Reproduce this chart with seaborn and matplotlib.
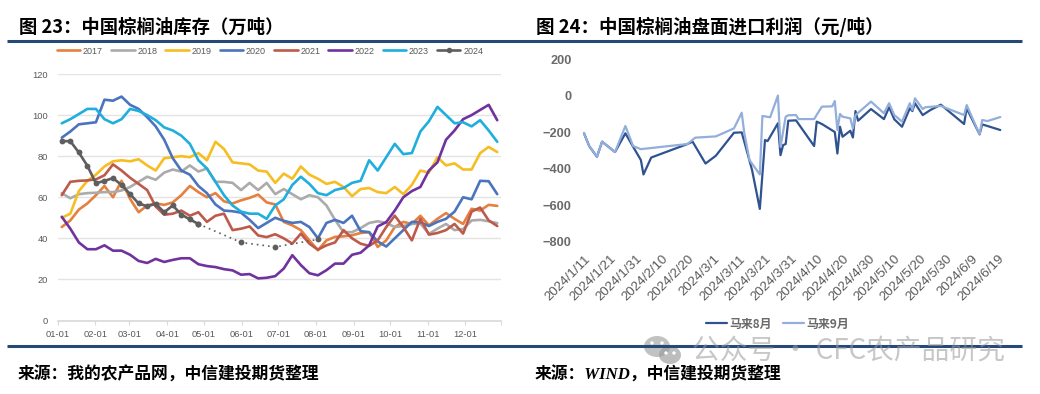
import numpy as np
import pandas as pd
import matplotlib
matplotlib.use("Agg")
import matplotlib.pyplot as plt
from matplotlib.lines import Line2D
from matplotlib.patches import Ellipse
import seaborn as sns

# ---------- left chart data ----------
y2017 = [45.5,48.7,54,57,61,65.5,60,68,59.2,52.7,56,57,56.3,57.5,61,65.5,62.5,60,62,58,57,58.5,59.7,61.3,57.5,56.5,48,46.3,44,39,34.2,39,40.7,41,41.5,42.6,43,35.8,39,45.5,48,47,51,46.3,49.5,52.3,49.5,47,54.4,53.5,56.3,55.8]
y2018 = [62,59.5,61.5,62,62.2,62.5,62.5,63.3,65,67.5,70,68.5,72,73.5,72.5,75.5,72.5,74,67.5,67.5,67,63.5,67,63.5,67,61.5,64,61.5,59,61,60,56,49,43,43,45,47.5,48.3,47.5,45.5,46,47,47.2,42.2,44.7,47,44,44.5,48.7,49,48.3,47.4]
y2019 = [50,52,63,68,71,75,77.5,78,77.5,78.5,75.5,73,79,79.5,80,79.5,81.5,78,87,83.5,77,76.5,76,73,72.5,67,71.5,69,75,71,69,66.5,67.5,65,60.5,64,64.5,62.5,62,65,61.5,66,73,72,79.5,75.5,76.5,73.5,73.5,81.5,84.5,82]
y2020 = [89,92,95.5,96,96.5,107.5,107,109,105,103,99,94.5,88,79,73,71,65.5,62,56.5,53.5,53.2,52.5,49,45,47.5,50,48.5,47.5,48,45.5,40,47.5,49,47.5,51,43.5,43,38.5,36,40,44,48,47.8,46,48,49.5,53,60,59,68,67.8,61.5]
y2021 = [61,67.5,68,68.2,68.7,70.7,76,73,69.5,66.5,63.5,55.5,51.5,52,53.5,51,52.7,48,51,52,44,44.7,45.8,41.4,40.6,42,40,37.4,42.3,37.4,34.5,36.6,38,44,40,37.4,36.3,39,45.5,51,45.5,39,49.5,41.8,42.6,44,47,42.3,53,55,48.7,46]
y2022 = [50.5,44.7,38,34.7,34.7,36.6,34,34,32,29,28,30,28.5,29.5,30.3,30.3,27.4,26.5,26,25,24.4,22.3,22.6,20.5,20.8,21.6,25.3,31.8,27,23,22,24.5,27.7,27.7,32,33,36.6,45.8,47.9,53.5,60,63,65,73,77,88,92.5,98,100,102.5,105,97.5]
y2023 = [96,98,100.5,103,103,98,96,98,103,102,100,97.5,94,92.5,90,86,78,74,67.5,61,56,53,52,52,49.5,56,59,66,70,66.5,62,61,63.5,64.5,67,68,78,73,79.5,86,81,81.5,92,97,104,100,96,96.5,94.5,97.5,92.5,87]
y2024 = [87.3,87.3,81.8,75.3,66.8,68,69.3,66,61.5,57,55.6,56.8,52.7,56,51.6,49.2,47]
w2024_dotted = [16,21,25,30]
y2024_dotted = [47,38,35.8,39.5]
years = ["2017","2018","2019","2020","2021","2022","2023"]
year_colors = ["#E5803F","#ABABAB","#F6BE22","#4A74BE","#BD5A4C","#6F329E","#20AEDD"]
color_2024 = "#5E5E5E"
month_labels = ["01-01","02-01","03-01","04-01","05-01","06-01","07-01","08-01","09-01","10-01","11-01","12-01",""]
left_yticks = [0,20,40,60,80,100,120]

# ---------- right chart data ----------
days_aug = [0,2,5,7,12,16,19,22,23,26,40,42,47,51,58,61,62,65,68,70,71,75,76,77,78,79,82,89,90,92,97,98,99,100,103,104,105,106,111,116,118,120,123,126,127,128,131,134,138,147,148,153,154,161]
aug = [-205,-275,-334,-251,-308,-205,-279,-352,-431,-338,-264,-251,-371,-328,-202,-200,-251,-407,-620,-242,-248,-150,-325,-270,-264,-136,-134,-275,-141,-154,-198,-316,-169,-224,-191,-228,-83,-136,-72,-127,-62,-128,-169,-68,-83,-40,-105,-77,-48,-154,-68,-211,-156,-187]
days_sep = [0,2,5,7,12,16,19,22,40,43,51,58,61,62,64,68,69,72,75,76,78,79,82,83,89,92,96,97,98,99,100,103,104,105,111,116,118,120,123,126,127,128,131,132,138,147,148,153,154,156,161]
sep = [-205,-275,-334,-251,-308,-165,-275,-292,-264,-229,-222,-178,-92,-205,-352,-431,-110,-117,2,-279,-114,-106,-105,-127,-127,-59,-57,-28,-187,-99,-114,-123,-178,-105,-31,-95,-40,-105,-141,-40,-77,-13,-72,-62,-55,-105,-50,-211,-132,-138,-116]
date_labels = ["2024/1/11","2024/1/21","2024/1/31","2024/2/10","2024/2/20","2024/3/1","2024/3/11","2024/3/21","2024/3/31","2024/4/10","2024/4/20","2024/4/30","2024/5/10","2024/5/20","2024/5/30","2024/6/9","2024/6/19"]
right_yticks = [-800,-600,-400,-200,0,200]
right_names = ["马来8月","马来9月"]
right_colors = ["#2F5290","#93AEDB"]

# ---------- texts ----------
title_l = "图 23：中国棕榈油库存（万吨）"
title_r = "图 24：中国棕榈油盘面进口利润（元/吨）"
src_l = "来源：我的农产品网，中信建投期货整理"
src_r = "来源：WIND，中信建投期货整理"
mark = "公众号 · CFC农产品研究"

sns.set_theme(style="white")
CJK = ["Noto Sans CJK SC", "DejaVu Sans"]
plt.rcParams["font.family"] = ["Liberation Sans", "Noto Sans CJK SC"]

W, H = 1040, 394
fig = plt.figure(figsize=(W/100, H/100), dpi=100)

def axes_px(x0, x1, ytop, ybot):
    return fig.add_axes([x0/W, 1-ybot/H, (x1-x0)/W, (ybot-ytop)/H])

# ---------- left ----------
ax = axes_px(57.5, 501.5, 74, 320.5)
week_day = 3.5 + 7*np.arange(52)
frames = []
for name, vals in zip(years, [y2017,y2018,y2019,y2020,y2021,y2022,y2023]):
    frames.append(pd.DataFrame({"day": week_day, "stock": vals, "year": name}))
df = pd.concat(frames)
sns.lineplot(data=df, x="day", y="stock", hue="year", hue_order=years, palette=year_colors,
             estimator=None, sort=False, linewidth=1.9, legend=False, ax=ax, clip_on=False)
d24 = pd.DataFrame({"day": week_day[:len(y2024)], "stock": y2024})
sns.lineplot(data=d24, x="day", y="stock", color=color_2024, linewidth=1.9, marker="o",
             markersize=4.2, markeredgewidth=0, estimator=None, ax=ax)
dd = pd.DataFrame({"day": week_day[w2024_dotted], "stock": y2024_dotted})
sns.lineplot(data=dd, x="day", y="stock", color=color_2024, linewidth=1.2, linestyle=(0,(1,2.4)),
             marker="o", markersize=4.2, markeredgewidth=0, estimator=None, ax=ax)
ax.set_xlim(0, 364)
ax.set_ylim(0, 120)
starts = pd.to_datetime([f"2023-{m:02d}-01" for m in range(1,13)] + ["2023-12-31"])
ax.set_xticks((starts - starts[0]).days.values.astype(float))
ax.set_xticklabels(month_labels)
ax.set_yticks(left_yticks)
ax.set_xlabel(""); ax.set_ylabel("")
ax.grid(axis="y", color="#E4E4E4", linewidth=1.0)
ax.set_axisbelow(True)
for s in ["top","left","right"]:
    ax.spines[s].set_visible(False)
ax.spines["bottom"].set_color("#DADADA")
ax.tick_params(axis="x", length=3, width=0.8, color="#DADADA", labelsize=6.7, labelcolor="#595959", pad=3.5, bottom=True)
ax.tick_params(axis="y", length=0, labelsize=6.7, labelcolor="#595959", pad=7)
handles = [Line2D([],[],color=c,lw=1.9) for c in year_colors] + \
          [Line2D([],[],color=color_2024,lw=1.9,marker="o",ms=4,mew=0)]
leg = ax.legend(handles, years+["2024"], ncol=8, frameon=False, fontsize=6.5,
                handlelength=2.6, handletextpad=0.3, columnspacing=0.9,
                loc="center", bbox_to_anchor=(270/W, 1-51/H), bbox_transform=fig.transFigure,
                borderpad=0, labelcolor="#595959")

# ---------- right ----------
ar = axes_px(584, 997.7, 59.5, 241.7)
t0 = pd.Timestamp("2024-01-11")
d_aug = pd.DataFrame({"date": t0 + pd.to_timedelta(days_aug, unit="D"), "v": aug, "k": right_names[0]})
d_sep = pd.DataFrame({"date": t0 + pd.to_timedelta(days_sep, unit="D"), "v": sep, "k": right_names[1]})
sns.lineplot(data=pd.concat([d_aug, d_sep]), x="date", y="v", hue="k", hue_order=right_names,
             palette=right_colors, estimator=None, sort=False, linewidth=1.6, legend=False,
             ax=ar, clip_on=False)
tick_dates = pd.to_datetime(date_labels, format="%Y/%m/%d")
ar.set_xlim(tick_dates[0], tick_dates[-1])
ar.set_ylim(-800, 200)
ar.set_xticks(tick_dates)
ar.set_xticklabels(date_labels, rotation=45, ha="right", rotation_mode="anchor")
ar.set_yticks(right_yticks)
ar.set_xlabel(""); ar.set_ylabel("")
ar.grid(False)
for s in ar.spines.values():
    s.set_visible(False)
ar.tick_params(axis="x", length=0, labelsize=9.6, labelcolor="#5A5A5A", pad=8)
ar.tick_params(axis="y", length=0, labelsize=9.2, labelcolor="#6A6A6A", pad=9)
for t in ar.get_yticklabels():
    t.set_fontweight("bold")
rh = [Line2D([],[],color=c,lw=1.6) for c in right_colors]
ar.legend(rh, right_names, ncol=2, frameon=False, loc="center",
          prop={"family": CJK, "size": 8.6, "weight": "bold"}, labelcolor="#6A6A6A",
          handlelength=1.75, handletextpad=0.2, columnspacing=0.9, borderpad=0,
          bbox_to_anchor=(777.5/W, 1-324/H), bbox_transform=fig.transFigure)

# ---------- overlay: titles, rules, sources, watermark ----------
ov = fig.add_axes([0,0,1,1], zorder=5)
ov.set_xlim(0, W); ov.set_ylim(H, 0); ov.axis("off"); ov.patch.set_alpha(0)
rule = "#264A78"
for yy, x0, x1 in [(40.5,7,1022),(346,7,1022)]:
    ov.plot([x0,x1],[yy,yy],color=rule,lw=2.2,solid_capstyle="butt")
ov.text(19, 27, title_l, family=CJK, weight="bold", fontsize=13.2, color="black", va="center", ha="left")
ov.text(535.5, 27, title_r, family=CJK, weight="bold", fontsize=13.3, color="black", va="center", ha="left")
serif = ["Liberation Serif", "Noto Sans CJK SC"]
ov.text(18, 375, src_l, family=serif, weight="bold", style="italic", fontsize=12.1, color="black", va="center", ha="left")
ov.text(535, 375, src_r, family=serif, weight="bold", style="italic", fontsize=12.1, color="black", va="center", ha="left")
gray = "#9A9A9A"
ov.add_patch(Ellipse((657,346.5),26,21,color=gray,alpha=0.6,lw=0))
ov.add_patch(Ellipse((670,355),22,18,color=gray,alpha=0.65,lw=0))
for ex,ey in [(652,343),(662,343),(666,353),(674,353)]:
    ov.add_patch(Ellipse((ex,ey),3.4,3.4,color="white",lw=0))
ov.text(692, 351, mark, family=["Noto Sans CJK SC","DejaVu Sans"], fontsize=20, color=gray, alpha=0.55, va="center", ha="left")

fig.savefig("out.png", dpi=100, facecolor="white")
